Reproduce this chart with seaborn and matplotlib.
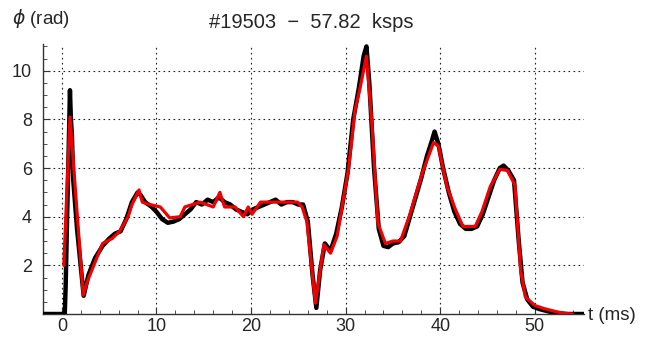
import numpy as np
import pandas as pd
import seaborn as sns
import matplotlib.pyplot as plt
from matplotlib.ticker import MultipleLocator

# Smoothed (red) trace
t_red = [0.2, 0.85, 2.25, 2.75, 4.3, 5.3, 6.1, 7.0, 7.4, 8.15, 8.5, 9.3, 10.4, 11.4, 12.5, 13.0,
         14.6, 16.0, 16.7, 17.2, 18.3, 19.2, 19.7, 20.1, 21.0, 22.4, 23.8, 24.9, 25.4, 25.9,
         26.8, 27.7, 28.4, 29.1, 29.7, 30.3, 31.0, 31.5, 32.2, 32.8, 33.4, 34.2, 35.0, 35.8,
         36.8, 38.1, 39.3, 39.8, 40.7, 41.6, 42.4, 43.7, 44.4, 45.3, 46.3, 47.1, 47.9, 48.5,
         49.0, 50.0, 51.0, 52.0, 53.0, 54.0]
y_red = [2.0, 8.1, 0.78, 1.4, 2.9, 3.1, 3.4, 4.0, 4.5, 5.1, 4.6, 4.5, 4.4, 3.95, 4.0, 4.4,
         4.6, 4.4, 5.0, 4.4, 4.4, 4.0, 4.4, 4.1, 4.6, 4.6, 4.6, 4.6, 4.4, 3.8,
         0.45, 2.85, 2.5, 3.2, 4.6, 5.95, 8.4, 9.25, 10.6, 7.7, 3.75, 2.9, 3.0, 3.0,
         4.1, 5.8, 7.05, 6.9, 5.25, 4.3, 3.6, 3.6, 4.2, 5.25, 5.95, 5.9, 5.3, 1.8,
         0.7, 0.35, 0.22, 0.12, 0.03, 0.0]

# Raw (black) trace
t_raw = [-2, 0.3, 0.4, 0.55, 0.7, 0.85, 0.95, 1.05, 1.2, 1.6, 2.3, 2.8, 3.5, 4.3, 5.0, 5.6, 6.2,
         6.8, 7.4, 8.0, 8.3, 8.8, 9.5, 10.0, 10.6, 11.2, 11.8, 12.4, 13.0, 13.6, 14.2, 14.8,
         15.4, 16.0, 16.6, 17.2, 17.8, 18.4, 19.0, 19.6, 20.2, 20.8, 21.4, 22.0, 22.6, 23.2,
         23.8, 24.4, 25.0, 25.5, 26.0, 26.5, 26.9, 27.3, 27.8, 28.4, 29.0, 29.6, 30.2, 30.8,
         31.4, 31.9, 32.2, 32.5, 33.0, 33.5, 34.0, 34.5, 35.0, 35.6, 36.2, 36.8, 37.4, 38.0,
         38.6, 39.1, 39.4, 39.8, 40.3, 40.9, 41.5, 42.1, 42.7, 43.3, 43.9, 44.5, 45.1, 45.7,
         46.3, 46.7, 47.2, 47.8, 48.3, 48.7, 49.2, 49.8, 50.5, 51.5, 52.5, 53.5, 55.2]
y_raw = [0, 0, 1.2, 4.0, 6.5, 9.2, 8.0, 7.4, 5.5, 3.5, 0.75, 1.6, 2.3, 2.8, 3.1, 3.3, 3.4,
         3.9, 4.6, 5.0, 4.9, 4.6, 4.4, 4.2, 3.9, 3.75, 3.8, 3.9, 4.1, 4.3, 4.6, 4.5,
         4.7, 4.6, 4.8, 4.6, 4.5, 4.3, 4.2, 4.1, 4.3, 4.4, 4.5, 4.6, 4.7, 4.5,
         4.6, 4.6, 4.5, 4.5, 3.8, 1.6, 0.25, 1.8, 2.9, 2.6, 3.3, 4.4, 5.8, 8.0,
         9.3, 10.6, 11.0, 9.5, 6.0, 3.5, 2.8, 2.75, 2.9, 2.95, 3.2, 4.0, 4.8, 5.6,
         6.5, 7.1, 7.5, 7.0, 6.0, 5.0, 4.2, 3.7, 3.5, 3.5, 3.6, 4.1, 4.8, 5.5,
         6.0, 6.1, 5.9, 5.5, 3.0, 1.3, 0.6, 0.3, 0.2, 0.1, 0.03, 0.0, 0.0]

x_ticks = [0, 10, 20, 30, 40, 50]
y_ticks = [2, 4, 6, 8, 10]

sns.set_style("ticks")
plt.rcParams['font.family'] = ['Liberation Sans', 'DejaVu Sans']

fig = plt.figure(figsize=(6.65, 3.43), dpi=100)
ax = fig.add_axes([43/665, 29/343, 541/665, 270/343])

raw = pd.DataFrame({"t": t_raw, "phi": y_raw})
smooth = pd.DataFrame({"t": t_red, "phi": y_red})
sns.lineplot(data=raw, x="t", y="phi", color="black", lw=3.2, sort=False,
             estimator=None, ax=ax, zorder=3)
sns.lineplot(data=smooth, x="t", y="phi", color="#f00000", lw=2.3, sort=False,
             estimator=None, ax=ax, zorder=4)

ax.set_xlim(-2.0, 55.2)
ax.set_ylim(0, 11.1)
ax.set_xticks(x_ticks)
ax.set_yticks(y_ticks)
ax.xaxis.set_minor_locator(MultipleLocator(2))
ax.yaxis.set_minor_locator(MultipleLocator(0.5))
ax.tick_params(which='major', direction='in', length=5, width=0.8, labelsize=13, color='#333')
ax.tick_params(which='minor', direction='in', length=3, width=0.6, color='#333')
ax.tick_params(axis='x', pad=3)
ax.tick_params(axis='y', pad=8)
ax.set_xlabel("")
ax.set_ylabel("")

ax.grid(True, which='major', color='#222222', linestyle=(0, (1.5, 3)), linewidth=0.8)
sns.despine(ax=ax)
for s in ['left', 'bottom']:
    ax.spines[s].set_color('#333333')
    ax.spines[s].set_linewidth(1.0)

fig.text(311/665, 1 - 23/343, "#19503  \u2212  57.82  ksps", ha='center', va='center', fontsize=14.5)
fig.text(12/665, 1 - 19/343, r"$\phi$ (rad)", ha='left', va='center', fontsize=13.5)
fig.text(588/665, 1 - 316/343, "t (ms)", ha='left', va='center', fontsize=13.5)

fig.savefig("out.png", dpi=100)
